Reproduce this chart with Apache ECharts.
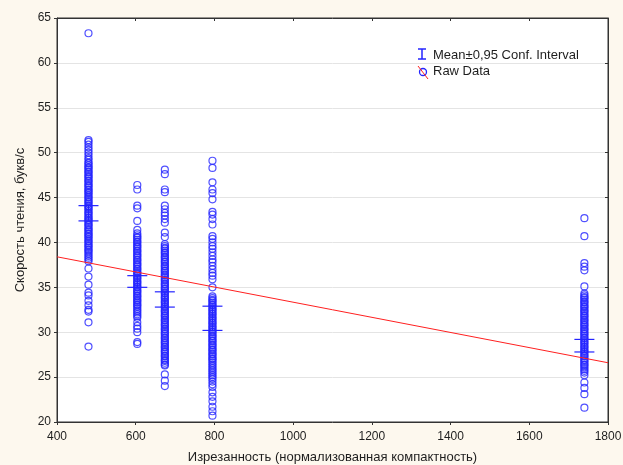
<!DOCTYPE html>
<html>
<head>
<meta charset="utf-8">
<script src="https://cdn.jsdelivr.net/npm/echarts@6/dist/echarts.min.js"></script>
<style>
  html, body { margin: 0; padding: 0; background: #fdf8ee; }
  #chart { width: 623px; height: 465px; }
</style>
</head>
<body>
<div id="chart"></div>
<script>
// x position of each group (normalised compactness)
var groupX = [480, 604, 674, 795, 1740];

// raw data: reading speed, letters per second
var raw480 = [63.3, 51.4, 51.2, 50.9, 50.6, 50.3, 50.0, 49.7, 49.4, 49.2, 48.9, 48.8, 48.6, 48.4, 48.3,
  48.1, 47.9, 47.8, 47.6, 47.4, 47.3, 47.1, 46.9, 46.8, 46.6, 46.4, 46.3, 46.1, 45.9, 45.8, 45.6, 45.5,
  45.3, 45.1, 45.0, 44.8, 44.6, 44.5, 44.3, 44.1, 44.0, 43.8, 43.7, 43.5, 43.3, 43.2, 43.0, 42.8, 42.7,
  42.5, 42.4, 42.2, 42.0, 41.9, 41.7, 41.5, 41.4, 41.2, 41.0, 40.9, 40.7, 40.6, 40.4, 40.2, 40.1, 39.9,
  39.7, 39.6, 39.4, 39.2, 39.1, 38.9, 38.7, 38.5, 38.3, 38.1, 37.9, 37.1, 36.2, 35.3, 34.4, 34.1, 33.5,
  33.0, 32.5, 32.3, 31.1, 28.4];
var raw604 = [46.4, 45.9, 44.1, 43.8, 42.4, 41.4, 41.0, 40.8, 40.6, 40.5, 40.3, 40.1, 40.0, 39.8, 39.6,
  39.5, 39.3, 39.1, 39.0, 38.8, 38.6, 38.5, 38.3, 38.1, 38.0, 37.8, 37.6, 37.5, 37.3, 37.1, 37.0, 36.8,
  36.6, 36.5, 36.3, 36.1, 36.0, 35.8, 35.6, 35.5, 35.3, 35.1, 35.0, 34.8, 34.6, 34.5, 34.3, 34.1, 34.0,
  33.8, 33.6, 33.5, 33.3, 33.1, 33.0, 32.8, 32.6, 32.4, 32.2, 32.0, 31.8, 31.6, 31.1, 30.7, 30.4, 30.0,
  28.9, 28.7];
var raw674 = [48.1, 47.6, 45.9, 45.6, 44.1, 43.7, 43.3, 43.0, 42.6, 42.2, 41.1, 40.6, 39.8, 39.6, 39.4,
  39.3, 39.1, 38.9, 38.8, 38.6, 38.4, 38.3, 38.1, 37.9, 37.8, 37.6, 37.4, 37.3, 37.1, 36.9, 36.8, 36.6,
  36.4, 36.3, 36.1, 35.9, 35.8, 35.6, 35.4, 35.3, 35.1, 34.9, 34.8, 34.6, 34.4, 34.3, 34.1, 33.9, 33.8,
  33.6, 33.4, 33.3, 33.1, 32.9, 32.8, 32.6, 32.4, 32.3, 32.1, 31.9, 31.8, 31.6, 31.4, 31.3, 31.1, 30.9,
  30.8, 30.6, 30.4, 30.3, 30.1, 29.9, 29.8, 29.6, 29.4, 29.3, 29.1, 28.9, 28.8, 28.6, 28.4, 28.3, 28.1,
  27.9, 27.8, 27.6, 27.4, 27.3, 27.1, 26.9, 26.8, 26.6, 26.4, 26.3, 25.3, 24.6, 24.0];
var raw795 = [49.1, 48.3, 46.7, 45.9, 45.5, 44.8, 43.4, 43.1, 42.6, 42.0, 40.7, 40.4, 40.0, 39.6, 39.3,
  38.9, 38.5, 38.1, 37.8, 37.4, 37.0, 36.6, 36.3, 35.9, 35.0, 34.0, 33.8, 33.6, 33.5, 33.3, 33.1, 33.0,
  32.8, 32.6, 32.5, 32.3, 32.1, 32.0, 31.8, 31.6, 31.5, 31.3, 31.1, 31.0, 30.8, 30.6, 30.5, 30.3, 30.1,
  30.0, 29.8, 29.6, 29.5, 29.3, 29.1, 29.0, 28.8, 28.6, 28.5, 28.3, 28.1, 28.0, 27.8, 27.6, 27.5, 27.3,
  27.1, 27.0, 26.8, 26.6, 26.4, 26.2, 26.0, 25.8, 25.6, 25.4, 25.2, 25.0, 24.8, 24.5, 24.2, 23.9, 23.3,
  22.8, 22.3, 21.7, 21.2, 20.7];
var raw1740 = [42.7, 40.7, 37.7, 37.3, 36.9, 35.1, 34.3, 34.1, 33.9, 33.8, 33.6, 33.4, 33.3, 33.1, 32.9,
  32.8, 32.6, 32.4, 32.3, 32.1, 31.9, 31.8, 31.6, 31.4, 31.3, 31.1, 30.9, 30.8, 30.6, 30.4, 30.3, 30.1,
  29.9, 29.8, 29.6, 29.4, 29.3, 29.1, 28.9, 28.8, 28.6, 28.4, 28.3, 28.1, 27.9, 27.8, 27.6, 27.4, 27.3,
  27.1, 26.9, 26.8, 26.6, 26.4, 26.3, 26.1, 25.9, 25.7, 25.5, 25.2, 24.4, 23.8, 23.1, 21.6];

// mean ± 0.95 confidence interval (lower, upper)
var ciLow = [42.4, 35.0, 32.8, 30.2, 27.8];
var ciHigh = [44.1, 36.3, 34.5, 32.9, 29.2];

// linear fit end points
var fitX = [400, 1800];
var fitY = [38.4, 26.6];

var rawGroups = [raw480, raw604, raw674, raw795, raw1740];
var rawPoints = [];
rawGroups.forEach(function (g, i) {
  g.forEach(function (v) { rawPoints.push([groupX[i], v]); });
});
var ciData = groupX.map(function (x, i) { return [x, ciLow[i], ciHigh[i]]; });

var blue = '#2424ff';
var txt = '#1e1e1e';
var font = 'Liberation Sans, Arial, sans-serif';
var chart = echarts.init(document.getElementById('chart'));
chart.setOption({
  backgroundColor: '#fdf8ee',
  animation: false,
  textStyle: { fontFamily: font },
  grid: {
    left: 57, right: 15, top: 18, bottom: 43,
    outerBoundsMode: 'none',
    show: true, backgroundColor: '#ffffff', borderColor: '#333', borderWidth: 1
  },
  xAxis: [{
    type: 'value', min: 400, max: 1800, interval: 200,
    name: 'Изрезанность (нормализованная компактность)',
    nameLocation: 'middle', nameGap: 29,
    nameTextStyle: { color: txt, fontSize: 13 },
    axisLine: { show: true, lineStyle: { color: '#333' } },
    axisTick: { show: true, length: 3, lineStyle: { color: '#333' } },
    axisLabel: { color: txt, fontSize: 12, margin: 9, formatter: function (v) { return String(v); } },
    splitLine: { show: false }
  }, {
    type: 'value', min: 400, max: 1800, interval: 200, position: 'top',
    axisLine: { show: true, lineStyle: { color: '#333' } },
    axisTick: { show: true, inside: true, length: 3, lineStyle: { color: '#333' } },
    axisLabel: { show: false }, splitLine: { show: false }
  }],
  yAxis: [{
    type: 'value', min: 20, max: 65, interval: 5,
    name: 'Скорость чтения, букв/с',
    nameLocation: 'middle', nameGap: 24,
    nameTextStyle: { color: txt, fontSize: 13 },
    axisLine: { show: true, lineStyle: { color: '#333' } },
    axisTick: { show: true, length: 3, lineStyle: { color: '#333' } },
    axisLabel: { color: txt, fontSize: 12, margin: 6 },
    splitLine: { show: true, lineStyle: { color: '#e4e4e4' } }
  }, {
    type: 'value', min: 20, max: 65, interval: 5, position: 'right',
    axisLine: { show: true, lineStyle: { color: '#333' } },
    axisTick: { show: true, inside: true, length: 3, lineStyle: { color: '#333' } },
    axisLabel: { show: false }, splitLine: { show: false }
  }],
  series: [{
    name: 'Raw Data',
    type: 'scatter',
    data: rawPoints,
    symbol: 'circle',
    symbolSize: 7,
    itemStyle: { color: 'rgba(0,0,0,0)', borderColor: blue, borderWidth: 1.2 },
    z: 2
  }, {
    name: 'Mean±0,95 Conf. Interval',
    type: 'custom',
    data: ciData,
    renderItem: function (params, api) {
      var x = api.value(0);
      var lo = api.coord([x, api.value(1)]);
      var hi = api.coord([x, api.value(2)]);
      var w = 10;
      var st = { stroke: blue, lineWidth: 1.2 };
      return {
        type: 'group',
        children: [
          { type: 'line', shape: { x1: lo[0], y1: lo[1], x2: hi[0], y2: hi[1] }, style: st },
          { type: 'line', shape: { x1: lo[0] - w, y1: lo[1], x2: lo[0] + w, y2: lo[1] }, style: st },
          { type: 'line', shape: { x1: hi[0] - w, y1: hi[1], x2: hi[0] + w, y2: hi[1] }, style: st }
        ]
      };
    },
    z: 3
  }, {
    type: 'line',
    data: fitX.map(function (x, i) { return [x, fitY[i]]; }),
    showSymbol: false,
    lineStyle: { color: '#ff2020', width: 1 },
    z: 4
  }],
  graphic: [
    { type: 'line', shape: { x1: 422, y1: 49, x2: 422, y2: 59 }, style: { stroke: blue, lineWidth: 1.5 } },
    { type: 'line', shape: { x1: 418, y1: 49, x2: 426, y2: 49 }, style: { stroke: blue, lineWidth: 1.5 } },
    { type: 'line', shape: { x1: 418, y1: 59, x2: 426, y2: 59 }, style: { stroke: blue, lineWidth: 1.5 } },
    { type: 'text', left: 433, top: 49, style: { text: 'Mean±0,95 Conf. Interval', fill: txt, fontSize: 13, fontFamily: font } },
    { type: 'circle', shape: { cx: 423, cy: 72, r: 3.5 }, style: { fill: 'none', stroke: blue, lineWidth: 1.3 } },
    { type: 'line', shape: { x1: 418, y1: 66, x2: 428, y2: 79 }, style: { stroke: '#ff2020', lineWidth: 1 } },
    { type: 'text', left: 433, top: 65, style: { text: 'Raw Data', fill: txt, fontSize: 13, fontFamily: font } }
  ]
});
</script>
</body>
</html>
